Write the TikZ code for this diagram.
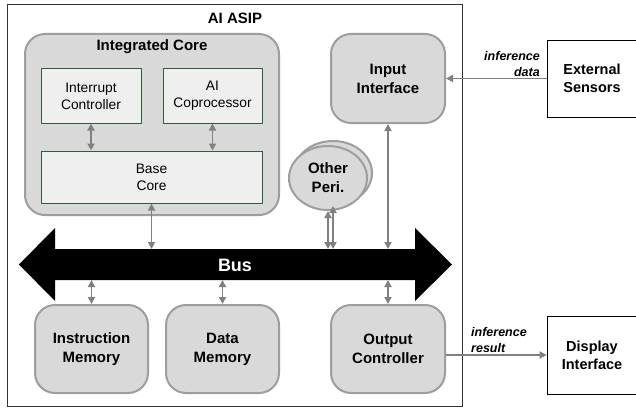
\documentclass[tikz,border=0pt]{standalone}
\usepackage{fontspec}
\setmainfont{Liberation Sans}
\usetikzlibrary{arrows.meta,shapes.geometric}
\definecolor{boxfill}{HTML}{D9D9D9}
\definecolor{boxline}{HTML}{9E9E9E}
\definecolor{innerfill}{HTML}{EFEFEF}
\definecolor{innerline}{HTML}{2E5E3A}
\definecolor{arrowgrey}{HTML}{808080}
\tikzset{
  blk/.style={draw=boxline, fill=boxfill, line width=2pt, rounded corners=20pt,
    align=center, font=\fontsize{15}{19}\selectfont\bfseries, inner sep=0pt},
  inner/.style={draw=innerline, fill=innerfill, line width=1pt, align=center,
    font=\fontsize{13.8}{17}\selectfont, inner sep=0pt},
  peri/.style={ellipse, draw=boxline, fill=boxfill, line width=2pt, minimum width=78pt,
    minimum height=64pt, inner sep=0pt, align=center, font=\fontsize{15}{19}\selectfont\bfseries},
  extbox/.style={draw=black, line width=0.8pt, fill=white, align=center, inner sep=0pt,
    minimum width=90pt, font=\fontsize{14.5}{18}\selectfont\bfseries},
  conn/.style={draw=arrowgrey, line width=1.8pt, {Triangle[length=7pt,width=7pt]}-{Triangle[length=7pt,width=7pt]}},
  oneway/.style={draw=arrowgrey, line width=1.8pt, -{Triangle[length=7pt,width=7pt]}},
  lbl/.style={font=\fontsize{12.5}{16}\selectfont\bfseries\itshape, align=left, inner sep=0pt},
  title/.style={font=\fontsize{15}{19}\selectfont\bfseries, inner sep=0pt}
}
\begin{document}
\begin{tikzpicture}[x=1pt,y=-1pt]
\useasboundingbox (0,0) rectangle (636,409);
\fill[white] (0,0) rectangle (636,409);
% outer box
\draw[line width=0.8pt, black!80] (7,4) rectangle (462,406);
\node[title] (asip) at (235,18) {AI ASIP};

% integrated core
\node[blk, minimum width=254pt, minimum height=181pt,
  label={[title, anchor=center, yshift=-14pt]north:Integrated Core}] (core) at (152,124.5) {};
\node[inner, minimum width=100pt, minimum height=54pt] (intc) at (91,96) {Interrupt\\Controller};
\node[inner, minimum width=99pt, minimum height=54pt] (aic) at (212.5,96) {AI\\Coprocessor};
\node[inner, minimum width=221pt, minimum height=52pt] (base) at (151.5,177) {Base\\Core};

% input interface
\node[blk, minimum width=114pt, minimum height=89pt] (inp) at (388,78.5) {Input\\Interface};

% other peripherals
\node[peri] (peri2) at (333,173) {};
\node[peri] (peri) at (328,178) {Other\\Peri.};

% memories and output
\node[blk, minimum width=113pt, minimum height=88pt] (imem) at (91.5,349) {Instruction\\Memory};
\node[blk, minimum width=113pt, minimum height=88pt] (dmem) at (222.5,349) {Data\\Memory};
\node[blk, minimum width=114pt, minimum height=88pt] (outc) at (388,349) {Output\\Controller};

% bus
\fill[black] (19,264.5) -- (55,228) -- (55,249) -- (415,249) -- (415,228) -- (452,264.5)
  -- (415,301) -- (415,280) -- (55,280) -- (55,301) -- cycle;
\node[font=\fontsize{18}{22}\selectfont\bfseries, text=white, inner sep=0pt] (bus) at (235,265) {Bus};
\coordinate (bustop) at (0,249);
\coordinate (busbot) at (0,280);

% external boxes
\node[extbox, minimum height=77pt] (sens) at (592,78.5) {External\\Sensors};
\node[extbox, minimum height=78pt] (disp) at (592,355) {Display\\Interface};

% connectors
\draw[conn] (intc.south) -- (intc.south |- base.north);
\draw[conn] (aic.south) -- (aic.south |- base.north);
\draw[conn] (base.south) -- (base.south |- bustop);
\draw[conn] (peri.south) -- (peri.south |- bustop);
\draw[conn] (peri2.south) -- (peri2.south |- bustop);
\draw[conn] (inp.south) -- (inp.south |- bustop);
\draw[conn] (outc.north |- busbot) -- (outc.north);
\draw[conn] (imem.north |- busbot) -- (imem.north);
\draw[conn] (dmem.north |- busbot) -- (dmem.north);
\draw[oneway] (sens.west) -- (sens.west -| inp.east);
\draw[oneway] (outc.east |- disp.west) -- (disp.west);

% labels
\node[lbl, align=right, anchor=east] (l1) at (540,64) {inference\\data};
\node[lbl, anchor=west] (l2) at (471,340.5) {inference\\result};
\end{tikzpicture}
\end{document}
